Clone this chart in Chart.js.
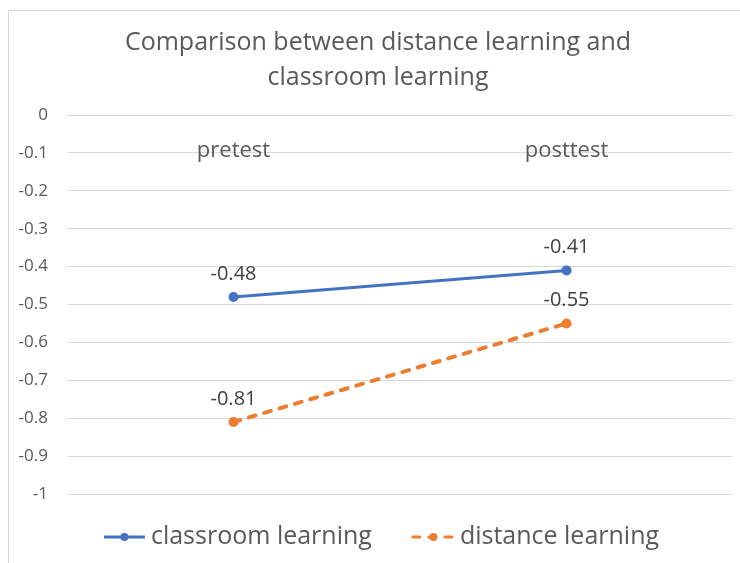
<!DOCTYPE html>
<html>
<head>
<meta charset="utf-8">
<script src="https://cdn.jsdelivr.net/npm/chart.js@4.4.1/dist/chart.umd.min.js"></script>
<style>
  html, body { margin: 0; padding: 0; background: #ffffff; }
  #wrap { width: 740px; height: 563px; position: relative; }
</style>
</head>
<body>
<div id="wrap"><canvas id="c" width="740" height="563"></canvas></div>
<script>
// ---- data ----
const categories = ['pretest', 'posttest'];
const seriesNames = ['classroom learning', 'distance learning'];
const classroomLearning = [-0.48, -0.41];
const distanceLearning = [-0.81, -0.55];
const yTickValues = [0, -0.1, -0.2, -0.3, -0.4, -0.5, -0.6, -0.7, -0.8, -0.9, -1];
const yTickLabels = ['0', '-0.1', '-0.2', '-0.3', '-0.4', '-0.5', '-0.6', '-0.7', '-0.8', '-0.9', '-1'];
const titleLines = ['Comparison between distance learning and', 'classroom learning'];

// ---- style ----
const FONT = '"Open Sans", "Noto Sans", sans-serif';
const TEXT = '#595959';
const BLUE = '#4472C4';
const ORANGE = '#ED7D31';

const frame = {
  id: 'frame',
  beforeDraw(chart) {
    const ctx = chart.ctx;
    ctx.save();
    ctx.fillStyle = '#ffffff';
    ctx.fillRect(0, 0, chart.width, chart.height);
    ctx.strokeStyle = '#d9d9d9';
    ctx.lineWidth = 1;
    ctx.strokeRect(8.5, 10.5, chart.width + 20, chart.height + 20);
    ctx.restore();
  }
};

// y-axis tick labels, placed with the library's y scale
const yLabels = {
  id: 'yLabels',
  afterDraw(chart) {
    const ctx = chart.ctx;
    const scale = chart.scales.y;
    ctx.save();
    ctx.font = '17px ' + FONT;
    ctx.fillStyle = TEXT;
    ctx.textAlign = 'right';
    ctx.textBaseline = 'middle';
    yTickValues.forEach((v, i) => {
      ctx.fillText(yTickLabels[i], scale.right - 19, scale.getPixelForValue(v));
    });
    ctx.restore();
  }
};

const valueLabels = {
  id: 'valueLabels',
  afterDatasetsDraw(chart) {
    const ctx = chart.ctx;
    ctx.save();
    ctx.font = '20px ' + FONT;
    ctx.fillStyle = '#404040';
    ctx.textAlign = 'center';
    ctx.textBaseline = 'middle';
    chart.data.datasets.forEach((ds, i) => {
      const meta = chart.getDatasetMeta(i);
      meta.data.forEach((pt, j) => {
        ctx.fillText(String(ds.data[j]), pt.x, pt.y - 23);
      });
    });
    ctx.restore();
  }
};

const lineLegend = {
  id: 'lineLegend',
  afterDraw(chart) {
    const ctx = chart.ctx;
    const y = 537;
    const symW = 43, gapText = 5, gapItems = 40;
    ctx.save();
    ctx.font = '25px ' + FONT;
    const items = chart.data.datasets.map(ds => ({ ds, w: ctx.measureText(ds.label).width }));
    const total = items.reduce((s, it) => s + symW + gapText + it.w, 0) + gapItems * (items.length - 1);
    let x = 381 - total / 2;
    items.forEach(({ ds, w }) => {
      ctx.strokeStyle = ds.borderColor;
      ctx.lineWidth = 3;
      ctx.lineCap = ds.borderDash && ds.borderDash.length ? 'round' : 'butt';
      ctx.setLineDash(ds.borderDash || []);
      ctx.beginPath();
      ctx.moveTo(x + 1, y);
      ctx.lineTo(x + symW - 1, y);
      ctx.stroke();
      ctx.setLineDash([]);
      ctx.fillStyle = ds.borderColor;
      ctx.beginPath();
      ctx.arc(x + symW / 2, y, 4, 0, Math.PI * 2);
      ctx.fill();
      ctx.fillStyle = TEXT;
      ctx.textAlign = 'left';
      ctx.textBaseline = 'middle';
      ctx.fillText(ds.label, x + symW + gapText, y);
      x += symW + gapText + w + gapItems;
    });
    ctx.restore();
  }
};

new Chart(document.getElementById('c'), {
  type: 'line',
  data: {
    labels: categories,
    datasets: [
      {
        label: seriesNames[0],
        data: classroomLearning,
        borderColor: BLUE,
        backgroundColor: BLUE,
        borderWidth: 3,
        pointRadius: 5,
        pointBorderWidth: 0,
        pointBackgroundColor: BLUE,
        tension: 0
      },
      {
        label: seriesNames[1],
        data: distanceLearning,
        borderColor: ORANGE,
        backgroundColor: ORANGE,
        borderWidth: 4,
        borderDash: [7, 9],
        borderCapStyle: 'round',
        pointRadius: 5,
        pointBorderWidth: 0,
        pointBackgroundColor: ORANGE,
        tension: 0
      }
    ]
  },
  options: {
    responsive: false,
    animation: false,
    devicePixelRatio: 1,
    layout: { padding: { left: 23, right: 7, top: 0, bottom: 69 } },
    plugins: {
      legend: { display: false },
      tooltip: { enabled: false },
      title: {
        display: true,
        text: titleLines,
        color: TEXT,
        font: { family: FONT, size: 25, weight: 'normal', lineHeight: 35 / 25 },
        padding: { top: 25, bottom: 20 }
      }
    },
    scales: {
      x: {
        type: 'category',
        offset: true,
        position: { y: 0 },
        afterFit: s => { s.height = 0; },
        grid: { display: false, drawTicks: false },
        border: { display: false },
        ticks: { color: TEXT, font: { family: FONT, size: 22 }, padding: 23, maxRotation: 0, autoSkip: false }
      },
      y: {
        min: -1,
        max: 0,
        afterBuildTicks: s => { s.ticks = yTickValues.map(v => ({ value: v })); },
        afterFit: s => { s.width = 44; },
        grid: { color: '#d9d9d9', lineWidth: 1, drawTicks: false },
        border: { display: false },
        ticks: { display: false }
      }
    }
  },
  plugins: [frame, yLabels, valueLabels, lineLegend]
});
</script>
</body>
</html>
